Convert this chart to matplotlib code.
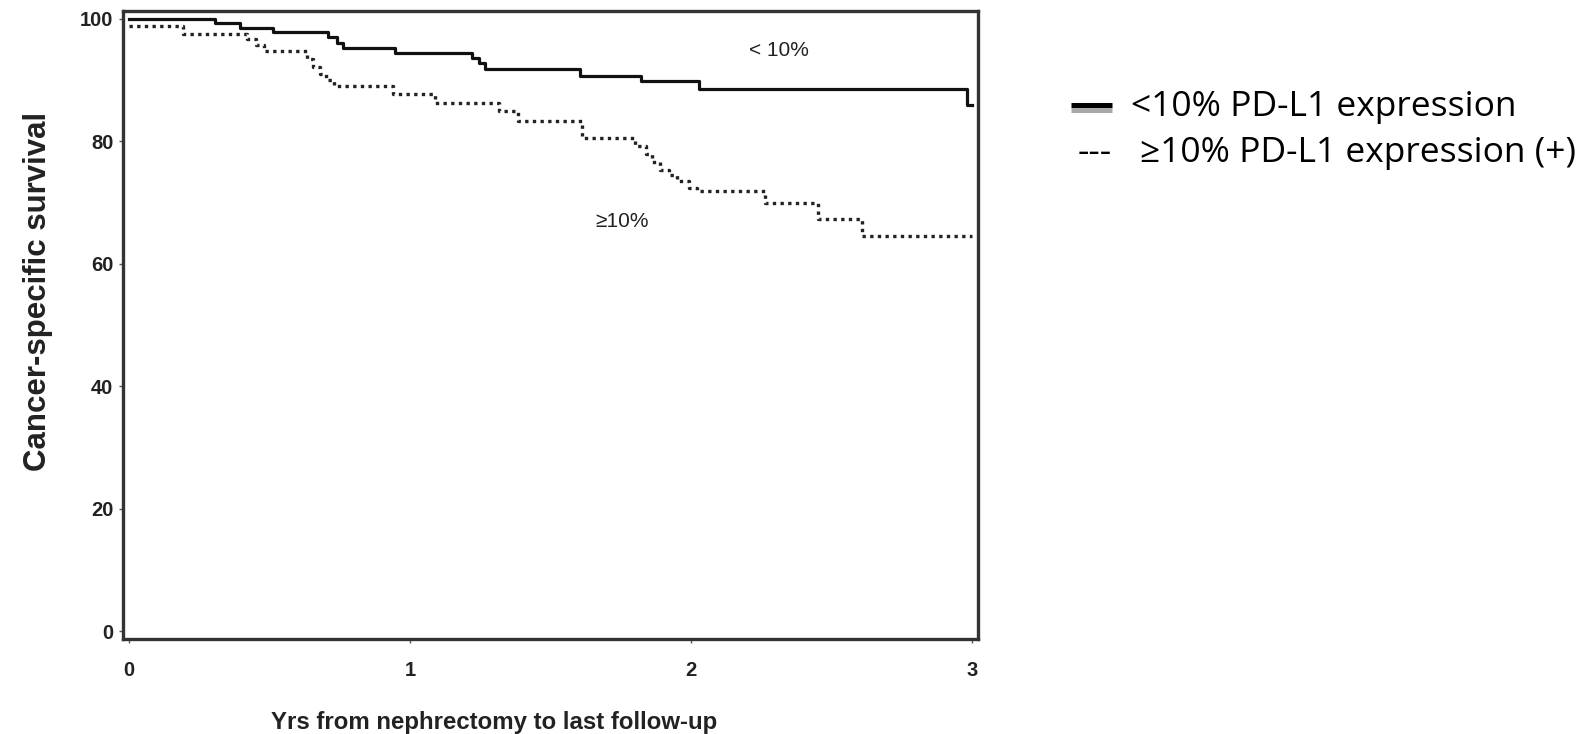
import numpy as np
import matplotlib.pyplot as plt
from matplotlib.lines import Line2D

# survival step data
t_low = [0, 0.306, 0.395, 0.511, 0.709, 0.74, 0.76, 0.947, 1.219, 1.243, 1.267,
         1.605, 1.821, 2.028, 2.981, 3.0]
s_low = [100, 99.4, 98.6, 97.8, 97.0, 96.0, 95.3, 94.5, 93.7, 92.8, 91.8,
         90.7, 89.8, 88.5, 85.9, 85.9]

t_high = [0, 0.193, 0.42, 0.45, 0.48, 0.632, 0.655, 0.68, 0.70, 0.727, 0.94,
          1.089, 1.314, 1.384, 1.61, 1.80, 1.84, 1.86, 1.89, 1.92, 1.95, 1.99,
          2.02, 2.263, 2.452, 2.607, 3.0]
s_high = [98.9, 97.5, 96.7, 95.8, 94.7, 93.5, 92.1, 91.0, 90.0, 89.0, 87.7,
          86.3, 84.9, 83.4, 80.5, 79.3, 78.0, 76.7, 75.3, 74.5, 73.5, 72.4,
          71.9, 69.9, 67.3, 64.5, 64.5]

x_ticks = [0, 1, 2, 3]
y_ticks = [0, 20, 40, 60, 80, 100]
legend_labels = ['<10% PD-L1 expression', '\u226510% PD-L1 expression (+)']

plt.rcParams['font.family'] = ['Liberation Sans', 'DejaVu Sans']

W, H = 1589, 734
fig = plt.figure(figsize=(W / 100, H / 100), dpi=100)
ax = fig.add_axes([123 / W, 1 - 639 / H, (978 - 123) / W, (639 - 11) / H])

ax.step(t_low, s_low, where='post', color='#111111', lw=2.3)
ax.step(t_high, s_high, where='post', color='#222222', lw=2.4,
        linestyle=(0, (1, 1.3)))

ax.text(2.31, 94.9, '< 10%', fontsize=15, ha='center', va='center', color='#222222')
ax.text(1.755, 66.9, '\u226510%', fontsize=15, ha='center', va='center', color='#222222')

ax.set_xlim(-0.022, 3.02)
ax.set_ylim(-1.3, 101.3)
ax.set_xticks(x_ticks)
ax.set_yticks(y_ticks)
ax.tick_params(length=3, width=1, color='#555555', labelsize=14.5)
ax.tick_params(axis='y', pad=4)
ax.tick_params(axis='x', pad=13)
for lab in ax.get_xticklabels() + ax.get_yticklabels():
    lab.set_fontweight('bold')
    lab.set_color('#222222')
for sp in ax.spines.values():
    sp.set_linewidth(2.4)
    sp.set_color('#333333')

ax.set_xlabel('Yrs from nephrectomy to last follow-up', fontsize=17.3,
              fontweight='bold', color='#222222')
ax.set_ylabel('Cancer-specific survival', fontsize=22.5, fontweight='bold',
              color='#222222')
ax.xaxis.set_label_coords(0.434, -0.115)
ax.yaxis.set_label_coords(-0.082, 0.554)

# legend drawn beside the axes
fig.add_artist(Line2D([1071 / W, 1112 / W], [1 - 104.5 / H] * 2,
                      color='black', lw=3.6, transform=fig.transFigure,
                      solid_capstyle='butt'))
fig.add_artist(Line2D([1071 / W, 1112 / W], [1 - 109.5 / H] * 2,
                      color='#a8a8a8', lw=3.6, transform=fig.transFigure,
                      solid_capstyle='butt'))
leg_font = ['Open Sans', 'DejaVu Sans']
fig.text(1131 / W, 1 - 116 / H, legend_labels[0], fontsize=25.5,
         family=leg_font, va='baseline', ha='left')
fig.text(1078 / W, 1 - 162 / H, '---', fontsize=25.5,
         family=leg_font, va='baseline', ha='left')
fig.text(1140 / W, 1 - 162 / H, legend_labels[1], fontsize=25.5,
         family=leg_font, va='baseline', ha='left')

fig.savefig('out.png', dpi=100)
